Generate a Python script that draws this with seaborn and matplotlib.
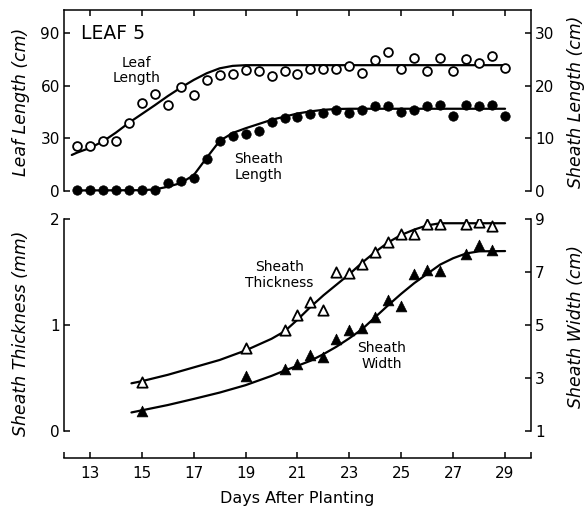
import seaborn as sns
import matplotlib.pyplot as plt

# ---- top panel: leaf length (open circles) / sheath length (filled circles), every half day
days_len = [12.5, 13.0, 13.5, 14.0, 14.5, 15.0, 15.5, 16.0, 16.5, 17.0, 17.5, 18.0,
            18.5, 19.0, 19.5, 20.0, 20.5, 21.0, 21.5, 22.0, 22.5, 23.0, 23.5, 24.0,
            24.5, 25.0, 25.5, 26.0, 26.5, 27.0, 27.5, 28.0, 28.5, 29.0]
leaf_len = [25.6, 25.4, 28.6, 28.3, 38.5, 50.1, 55.4, 48.8, 59.0, 54.7, 63.0, 66.0,
            66.6, 69.0, 68.3, 65.7, 68.2, 66.6, 69.5, 69.5, 69.5, 71.4, 67.2, 74.6,
            79.3, 69.5, 75.7, 68.5, 75.7, 68.5, 75.2, 72.7, 77.0, 69.8]
sheath_len = [0.1, 0.1, 0.1, 0.1, 0.1, 0.1, 0.1, 1.6, 1.8, 2.4, 6.0, 9.4,
              10.4, 10.9, 11.4, 13.0, 13.8, 14.0, 14.6, 14.8, 15.4, 14.8, 15.3, 16.1,
              16.1, 14.9, 15.4, 16.1, 16.3, 14.3, 16.3, 16.2, 16.3, 14.3]

# fitted curves
leaf_fit_x = [12.3, 12.5, 13.0, 13.5, 14.0, 14.5, 15.0, 15.5, 16.0, 16.5, 17.0, 17.5,
              18.0, 18.5, 19.0, 29.0]
leaf_fit_y = [20.5, 21.8, 24.5, 28.2, 33.2, 38.8, 43.8, 48.8, 54.0, 58.8, 63.2, 67.0,
              69.8, 71.2, 71.6, 71.6]
sheath_fit_x = [12.4, 15.0, 15.5, 16.0, 16.5, 17.0, 17.5, 18.0, 18.5, 19.0, 19.5, 20.0,
                20.5, 21.0, 21.5, 22.0, 22.5, 23.0, 29.0]
sheath_fit_y = [0.1, 0.15, 0.3, 0.8, 1.5, 3.0, 6.3, 9.5, 11.0, 11.9, 12.7, 13.5,
                14.1, 14.7, 15.1, 15.4, 15.55, 15.6, 15.6]

# ---- bottom panel: sheath thickness (open triangles) / sheath width (filled triangles)
days_sh = [15.0, 19.0, 20.5, 21.0, 21.5, 22.0, 22.5, 23.0, 23.5, 24.0, 24.5, 25.0,
           25.5, 26.0, 26.5, 27.5, 28.0, 28.5]
thickness = [0.465, 0.78, 0.95, 1.09, 1.22, 1.14, 1.50, 1.49, 1.58, 1.69, 1.78, 1.86,
             1.86, 1.95, 1.95, 1.95, 1.97, 1.93]
width = [1.77, 3.08, 3.35, 3.51, 3.86, 3.79, 4.46, 4.81, 4.87, 5.32, 5.95, 5.72,
         6.94, 7.07, 7.03, 7.67, 8.01, 7.83]

thick_fit_x = [14.6, 15.0, 16.0, 17.0, 18.0, 19.0, 20.0, 20.5, 21.0, 21.5, 22.0, 22.5,
               23.0, 23.5, 24.0, 24.5, 25.0, 25.5, 26.0, 26.5, 29.0]
thick_fit_y = [0.45, 0.47, 0.53, 0.60, 0.67, 0.76, 0.87, 0.94, 1.05, 1.17, 1.28, 1.38,
               1.48, 1.59, 1.69, 1.78, 1.85, 1.90, 1.94, 1.96, 1.96]
width_fit_x = [14.6, 15.0, 16.0, 17.0, 18.0, 19.0, 20.0, 20.5, 21.0, 21.5, 22.0, 22.5,
               23.0, 23.5, 24.0, 24.5, 25.0, 25.5, 26.0, 26.5, 27.0, 27.5, 28.0, 29.0]
width_fit_y = [1.70, 1.78, 1.98, 2.21, 2.45, 2.73, 3.08, 3.28, 3.46, 3.65, 3.90, 4.18,
               4.50, 4.85, 5.30, 5.75, 6.18, 6.58, 6.93, 7.28, 7.52, 7.70, 7.78, 7.79]

x_ticks = [13, 15, 17, 19, 21, 23, 25, 27, 29]

sns.set_style('ticks')
plt.rcParams['font.family'] = ['DejaVu Sans']
plt.rcParams['axes.linewidth'] = 1.1
plt.rcParams['axes.edgecolor'] = 'black'
plt.rcParams['axes.labelcolor'] = 'black'
plt.rcParams['text.color'] = 'black'
for a in ('x', 'y'):
    plt.rcParams[a + 'tick.direction'] = 'in'
    plt.rcParams[a + 'tick.major.size'] = 4.5
    plt.rcParams[a + 'tick.major.width'] = 1.1
    plt.rcParams[a + 'tick.labelsize'] = 11
    plt.rcParams[a + 'tick.color'] = 'black'

fig = plt.figure(figsize=(5.86, 5.14), dpi=100)
W, H = 586, 514

def px_axes(x0, y_top, x1, y_bot):
    return fig.add_axes([x0 / W, 1 - y_bot / H, (x1 - x0) / W, (y_bot - y_top) / H])

lw = 1.6

# ================= top panel
ax1 = px_axes(64, 10, 531, 194.5)
ax1r = ax1.twinx()
ax1.set_xlim(12, 30)
ax1.set_ylim(-2, 103)
ax1r.set_ylim(-2 / 3, 103 / 3)

sns.lineplot(x=leaf_fit_x, y=leaf_fit_y, color='black', lw=lw, ax=ax1,
             sort=False, estimator=None)
sns.scatterplot(x=days_len, y=leaf_len, marker='o', s=40, facecolor='white',
                edgecolor='black', linewidth=1.3, ax=ax1, zorder=3)
sns.lineplot(x=sheath_fit_x, y=sheath_fit_y, color='black', lw=lw, ax=ax1r,
             sort=False, estimator=None)
sns.scatterplot(x=days_len, y=sheath_len, marker='o', s=46, color='black',
                edgecolor='black', linewidth=0.5, ax=ax1r, zorder=3)

ax1.spines['bottom'].set_visible(False)
ax1.spines['right'].set_visible(False)
ax1.spines['left'].set_bounds(0, 103)
for s in ('left', 'top', 'bottom'):
    ax1r.spines[s].set_visible(False)
ax1r.spines['right'].set_bounds(0, 103 / 3)

ax1.xaxis.tick_top()
ax1.set_xticks(x_ticks)
ax1.set_xticklabels([])
ax1.set_yticks([0, 30, 60, 90])
ax1r.set_yticks([0, 10, 20, 30])
ax1.tick_params(axis='y', pad=3)
ax1r.tick_params(axis='y', pad=3)

ax1.set_ylabel('Leaf Length (cm)', fontsize=12.5, style='italic')
ax1.yaxis.set_label_coords(-0.073, 0.5)
ax1r.set_ylabel('Sheath Length (cm)', fontsize=12.5, style='italic', rotation=90)
ax1r.yaxis.set_label_coords(1.077, 0.5)

ax1.text(12.65, 89.5, 'LEAF 5', fontsize=13.5, va='center', ha='left')
ax1.text(14.8, 68.5, 'Leaf\nLength', fontsize=10, ha='center', va='center',
         linespacing=1.15)
ax1.text(19.5, 13.7, 'Sheath\nLength', fontsize=10, ha='center', va='center',
         linespacing=1.15)

# ================= bottom panel
ax2 = px_axes(64, 219, 531, 457.5)
ax2r = ax2.twinx()
ax2.set_xlim(12, 30)
ax2.set_ylim(-0.25, 2)
ax2r.set_ylim(0, 9)

sns.lineplot(x=thick_fit_x, y=thick_fit_y, color='black', lw=lw, ax=ax2,
             sort=False, estimator=None)
sns.scatterplot(x=days_sh, y=thickness, marker='^', s=55, facecolor='white',
                edgecolor='black', linewidth=1.3, ax=ax2, zorder=3)
sns.lineplot(x=width_fit_x, y=width_fit_y, color='black', lw=lw, ax=ax2r,
             sort=False, estimator=None)
sns.scatterplot(x=days_sh, y=width, marker='^', s=60, color='black',
                edgecolor='black', linewidth=0.5, ax=ax2r, zorder=3)

ax2.spines['top'].set_visible(False)
ax2.spines['right'].set_visible(False)
ax2.spines['left'].set_bounds(0, 2)
for s in ('left', 'top', 'bottom'):
    ax2r.spines[s].set_visible(False)
ax2r.spines['right'].set_bounds(1, 9)

ax2.set_xticks([12] + x_ticks + [30])
ax2.set_xticklabels([''] + [str(t) for t in x_ticks] + [''])
ax2.tick_params(axis='x', pad=6)
ax2.set_yticks([0, 1, 2])
ax2r.set_yticks([1, 3, 5, 7, 9])
ax2.tick_params(axis='y', pad=3)
ax2r.tick_params(axis='y', pad=3)

ax2.set_xlabel('Days After Planting', fontsize=11.5, labelpad=7)
ax2.set_ylabel('Sheath Thickness (mm)', fontsize=12.5, style='italic')
ax2.yaxis.set_label_coords(-0.073, 0.52)
ax2r.set_ylabel('Sheath Width (cm)', fontsize=12.5, style='italic', rotation=90)
ax2r.yaxis.set_label_coords(1.077, 0.55)

ax2.text(20.3, 1.47, 'Sheath\nThickness', fontsize=10, ha='center', va='center',
         linespacing=1.15)
ax2.text(24.25, 0.71, 'Sheath\nWidth', fontsize=10, ha='center', va='center',
         linespacing=1.15)

plt.savefig('out.png', dpi=100)
plt.close()
